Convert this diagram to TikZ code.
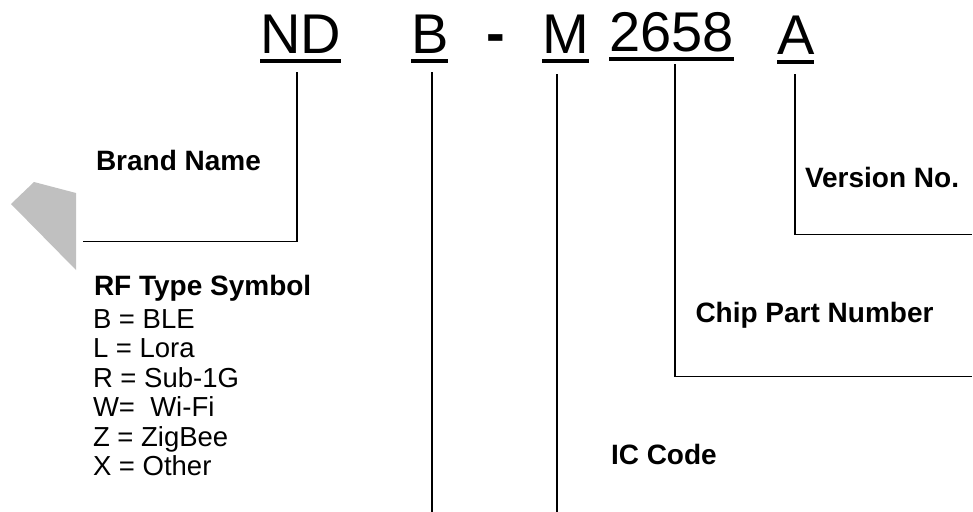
\documentclass[tikz,border=0pt]{standalone}
\usepackage{fontspec}
\setmainfont{Liberation Sans}
\tikzset{
  big/.style={inner sep=0pt, outer sep=0pt, anchor=base west, font=\fontsize{56}{60}\selectfont},
  lbl/.style={inner sep=0pt, outer sep=0pt, anchor=base west, font=\fontsize{28}{32}\selectfont\bfseries},
  lst/.style={inner sep=0pt, outer sep=0pt, anchor=base west, font=\fontsize{27.5}{31}\selectfont},
  ul/.style={line width=3.5pt},
  conn/.style={line width=1.6pt, line cap=rect}
}
\begin{document}
\begin{tikzpicture}[x=1pt,y=-1pt]
\useasboundingbox (0,0) rectangle (973,511);
% gray shape
\fill[fill={rgb,255:red,192;green,192;blue,192}] (34,182) -- (76,193) -- (76,270) -- (11,204) -- cycle;
% title
\node[big] (nd) at (260,53) {ND};
\node[big] (b) at (411,53) {B};
\node[big, font=\fontsize{56}{60}\selectfont\bfseries] (dash) at (486,52.5) {-};
\node[big] (m) at (542,53) {M};
\node[big] (num) at (609,52) {2658};
\node[big] (a) at (777,54) {A};
\foreach \n/\d in {nd/8, b/8, m/8, num/7, a/8}
  \draw[ul] ([yshift=-\d pt]\n.base west) -- ([yshift=-\d pt]\n.base east);
% labels
\node[lbl] (brand) at (96,170) {Brand Name};
\node[lbl] (rf) at (94,295) {RF Type Symbol};
\node[lst] (l1) at (93,328) {B = BLE};
\node[lst] (l2) at (93,357.5) {L = Lora};
\node[lst] (l3) at (93,387) {R = Sub-1G};
\node[lst] (l4) at (93,416.5) {W=\ \ Wi-Fi};
\node[lst] (l5) at (93,446) {Z = ZigBee};
\node[lst] (l6) at (93,475.5) {X = Other};
\node[lbl] (ver) at (805,187) {Version No.};
\node[lbl] (chip) at (695.5,322) {Chip Part Number};
\node[lbl] (ic) at (611,464) {IC Code};
% connector coordinates
\coordinate (ndtop) at (297,73);
\coordinate (ndc) at (297,241.5);
\coordinate (ndend) at (84,241.5);
\coordinate (btop) at (432,73);
\coordinate (bend) at (432,512);
\coordinate (mtop) at (557,75);
\coordinate (mend) at (557,512);
\coordinate (numtop) at (675,65);
\coordinate (numc) at (675,376.5);
\coordinate (numend) at (971,376.5);
\coordinate (atop) at (795,75);
\coordinate (ac) at (795,234.5);
\coordinate (aend) at (971,234.5);
\draw[conn] (ndtop) -- (ndc) -- (ndend);
\draw[conn] (btop) -- (bend);
\draw[conn] (mtop) -- (mend);
\draw[conn] (numtop) -- (numc) -- (numend);
\draw[conn] (atop) -- (ac) -- (aend);
\end{tikzpicture}
\end{document}
